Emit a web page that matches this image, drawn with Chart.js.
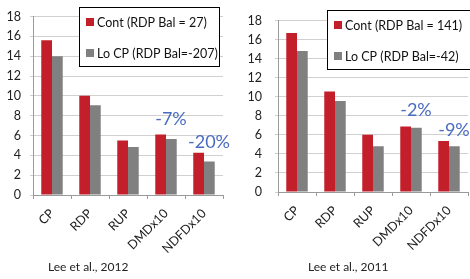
<!DOCTYPE html>
<html>
<head>
<meta charset="utf-8">
<script src="https://cdn.jsdelivr.net/npm/chart.js@4"></script>
<style>
  html, body { margin: 0; padding: 0; background: #fff; }
  #wrap { position: relative; width: 470px; height: 279px; overflow: hidden; }
  .pane { position: absolute; top: 0; width: 235px; height: 279px; }
  .src { position: absolute; top: 259px; font: 12px Lato, sans-serif; color: #222; }
</style>
</head>
<body>
<div id="wrap">
  <div class="pane" style="left:0"><canvas id="chart2012" width="235" height="279"></canvas></div>
  <div class="pane" style="left:235px"><canvas id="chart2011" width="235" height="279"></canvas></div>
  <div class="src" style="left:48px">Lee et al., 2012</div>
  <div class="src" style="left:308px">Lee et al., 2011</div>
</div>
<script>
var categories = ['CP', 'RDP', 'RUP', 'DMDx10', 'NDFDx10'];
var yTicks = [0, 2, 4, 6, 8, 10, 12, 14, 16, 18];

// Lee et al., 2012
var cont2012 = [15.6, 10.0, 5.5, 6.1, 4.25];
var loCp2012 = [14.0, 9.05, 4.83, 5.65, 3.37];
var legend2012 = ['Cont (RDP Bal = 27)', 'Lo CP (RDP Bal=-207)'];
var notes2012 = ['-7%', '-20%'];

// Lee et al., 2011
var cont2011 = [16.7, 10.55, 6.0, 6.88, 5.35];
var loCp2011 = [14.8, 9.55, 4.8, 6.75, 4.8];
var legend2011 = ['Cont (RDP Bal = 141)', 'Lo CP (RDP Bal=-42)'];
var notes2011 = ['-2%', '-9%'];

var RED = '#C21F2B';
var GRAY = '#808080';
var BLUE = '#4A6CC0';
var FONT = 'Lato, sans-serif';

// legend box + percent notes drawn inside the plot
var boxPlugin = {
    id: 'boxAndNotes',
    afterDraw: function (chart, args, opts) {
        var ctx = chart.ctx;
        var area = chart.chartArea;
        var x0 = area.left + opts.boxX, y0 = opts.boxY;
        ctx.save();
        ctx.fillStyle = '#fff';
        ctx.fillRect(x0, y0, opts.boxW, 59);
        ctx.strokeStyle = '#000';
        ctx.lineWidth = 1;
        ctx.strokeRect(x0 + 0.5, y0 + 0.5, opts.boxW, 59);
        ctx.font = '12.5px ' + FONT;
        ctx.textBaseline = 'middle';
        chart.data.datasets.forEach(function (ds, i) {
            var cy = y0 + 15 + i * 31;
            ctx.fillStyle = ds.backgroundColor;
            ctx.fillRect(x0 + 7, cy - 4, 8, 8);
            ctx.fillStyle = '#111';
            ctx.fillText(ds.label, x0 + 18, cy + 1);
        });
        // notes above the last two categories
        var xs = chart.scales.x, ys = chart.scales.y;
        ctx.font = '18px ' + FONT;
        ctx.fillStyle = BLUE;
        ctx.textAlign = 'center';
        ctx.textBaseline = 'alphabetic';
        opts.notes.forEach(function (txt, j) {
            var idx = 3 + j;
            var top = ys.getPixelForValue(chart.data.datasets[0].data[idx]);
            var gap = j === 0 ? 10 : 5;
            ctx.fillText(txt, xs.getPixelForValue(idx) + 5, top - gap);
        });
        ctx.restore();
    }
};

function makeChart(id, cont, loCp, legendText, notes, yWidth, yPad, xHeight, padTop, padRight, boxX, boxY, boxW) {
    return new Chart(document.getElementById(id), {
        type: 'bar',
        data: {
            labels: categories,
            datasets: [{
                label: legendText[0],
                data: cont,
                backgroundColor: RED,
                barPercentage: 1,
                categoryPercentage: 0.565
            }, {
                label: legendText[1],
                data: loCp,
                backgroundColor: GRAY,
                barPercentage: 1,
                categoryPercentage: 0.565
            }]
        },
        options: {
            responsive: false,
            animation: false,
            layout: { padding: { top: padTop, right: padRight, left: 0, bottom: 0 } },
            plugins: {
                legend: { display: false },
                tooltip: { enabled: false },
                boxAndNotes: { notes: notes, boxX: boxX, boxY: boxY, boxW: boxW }
            },
            scales: {
                x: {
                    grid: { drawOnChartArea: false, tickLength: 4, color: '#9a9a9a' },
                    border: { color: '#9a9a9a' },
                    ticks: { minRotation: 45, maxRotation: 45, padding: 7, color: '#222', font: { family: 'Lato', size: 12.5 } },
                    afterFit: function (s) { s.height = xHeight; }
                },
                y: {
                    min: 0,
                    max: 18,
                    afterBuildTicks: function (s) { s.ticks = yTicks.map(function (v) { return { value: v }; }); },
                    grid: { color: '#d0d0d0', tickLength: 3 },
                    border: { color: '#9a9a9a' },
                    ticks: { color: '#222', padding: yPad, font: { family: 'Lato', size: 12.5 } },
                    afterFit: function (s) { s.width = yWidth; }
                }
            }
        },
        plugins: [boxPlugin]
    });
}

makeChart('chart2012', cont2012, loCp2012, legend2012, notes2012, 33, 9, 84, 4, 12, 46, 7, 140);
makeChart('chart2011', cont2011, loCp2011, legend2011, notes2011, 43, 13, 87, 3, 2, 49, 10, 160);
</script>
</body>
</html>
